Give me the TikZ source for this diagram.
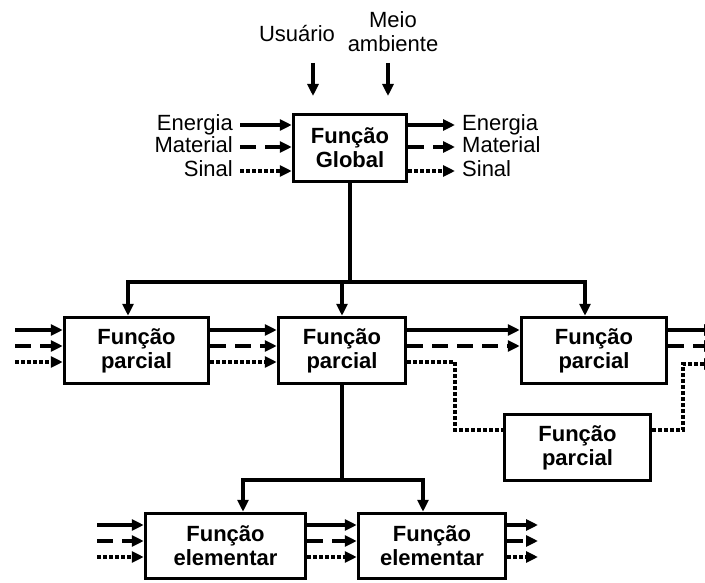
\documentclass[tikz,border=0pt]{standalone}
\usepackage{fontspec}
\setmainfont{Liberation Sans}
\usetikzlibrary{arrows.meta}

\begin{document}
\begin{tikzpicture}[x=1pt, y=-1pt,
  funcbox/.style={draw, line width=3.5pt, align=center, inner sep=0pt,
    font=\bfseries\fontsize{22}{24}\selectfont},
  lbl/.style={inner xsep=7pt, inner ysep=0pt, text height=15pt, text depth=4pt,
    font=\fontsize{22}{24}\selectfont},
  wire/.style={line width=3.3pt},
  flow/.style={wire, -{Triangle[length=12pt,width=11pt]}},
  matter/.style={flow, dash pattern=on 16pt off 9pt},
  signal/.style={flow, dash pattern=on 3.5pt off 2.5pt},
  link/.style={wire, dash pattern=on 3.5pt off 2.5pt}]

% Page frame
\useasboundingbox (0,0) rectangle (705,583);
\clip (0,0) rectangle (705,583);

% Rows of the three flows
\coordinate (gE) at (0,125);
\coordinate (gM) at (0,147);
\coordinate (gS) at (0,171);
\coordinate (pE) at (0,330);
\coordinate (pM) at (0,346);
\coordinate (pS) at (0,362);
\coordinate (eE) at (0,525);
\coordinate (eM) at (0,541);
\coordinate (eS) at (0,557);

% Free ends on the left and right
\coordinate (farL) at (15,0);
\coordinate (farLe) at (97,0);
\coordinate (farR) at (716,0);
\coordinate (endE) at (538,0);

% Global function
\node[funcbox, minimum width=113pt, minimum height=67pt] (glob) at (350,148) {Função\\Global};

% Partial functions
\node[funcbox, minimum width=144pt, minimum height=66pt] (p1) at (136.5,350.5) {Função\\parcial};
\node[funcbox, minimum width=127pt, minimum height=66pt] (p2) at (342,350.5) {Função\\parcial};
\node[funcbox, minimum width=145pt, minimum height=66pt] (p3) at (594,350.5) {Função\\parcial};
\node[funcbox, minimum width=146pt, minimum height=66pt] (p4) at (577.5,447.5) {Função\\parcial};

% Elementary functions
\node[funcbox, minimum width=160pt, minimum height=65pt] (e1) at (225.5,546) {Função\\elementar};
\node[funcbox, minimum width=147pt, minimum height=65pt] (e2) at (432,546) {Função\\elementar};

% User and environment
\node[lbl] (user) at (297,36) {Usuário};
\node[align=center, font=\fontsize{22}{24}\selectfont] (env) at (393,32) {Meio\\ambiente};
\coordinate (userA) at (313,63);
\coordinate (userB) at (313,96);
\coordinate (envA) at (388,63);
\coordinate (envB) at (388,96);
\draw[flow] (userA) -- (userB);
\draw[flow] (envA) -- (envB);

% Inputs of the global function
\node[lbl, anchor=east] (enIn) at (240,125) {Energia};
\node[lbl, anchor=east] (maIn) at (240,147) {Material};
\node[lbl, anchor=east] (siIn) at (240,171) {Sinal};
\draw[flow] (enIn.east) -- (enIn.east -| glob.west);
\draw[matter] (maIn.east) -- (maIn.east -| glob.west);
\draw[signal] (siIn.east) -- (siIn.east -| glob.west);

% Outputs of the global function
\node[lbl, anchor=west] (enOut) at (455,125) {Energia};
\node[lbl, anchor=west] (maOut) at (455,147) {Material};
\node[lbl, anchor=west] (siOut) at (455,171) {Sinal};
\draw[flow] (glob.east |- gE) -- (enOut.west);
\draw[matter] (glob.east |- gM) -- (maOut.west);
\draw[signal] (glob.east |- gS) -- (siOut.west);

% Split into partial functions
\coordinate (busMid) at (350,282);
\coordinate (busL) at (128,282);
\coordinate (busP) at (342,282);
\coordinate (busR) at (585,282);
\draw[wire] (glob.south) -- (busMid);
\draw[flow] (busMid) -| (busL |- p1.north);
\draw[flow] (busMid) -| (busR |- p3.north);
\draw[flow] (busP) -- (busP |- p2.north);

% Flows into the first partial function
\draw[flow] (farL |- pE) -- (p1.west |- pE);
\draw[matter] (farL |- pM) -- (p1.west |- pM);
\draw[signal] (farL |- pS) -- (p1.west |- pS);

% From the first to the second partial function
\draw[flow] (p1.east |- pE) -- (p2.west |- pE);
\draw[matter] (p1.east |- pM) -- (p2.west |- pM);
\draw[signal] (p1.east |- pS) -- (p2.west |- pS);

% From the second to the third partial function
\draw[flow] (p2.east |- pE) -- (p3.west |- pE);
\draw[matter] (p2.east |- pM) -- (p3.west |- pM);

% Signal through the fourth partial function
\coordinate (turnL) at (455,430);
\coordinate (turnR) at (683,364);
\draw[link] (p2.east |- pS) -| (turnL) -- (p4.west |- turnL);
\draw[signal] (p4.east |- turnL) -| (turnR) -- (farR |- turnR);

% Flows out of the third partial function
\draw[flow] (p3.east |- pE) -- (farR |- pE);
\draw[matter] (p3.east |- pM) -- (farR |- pM);

% Split into elementary functions
\coordinate (subMid) at (342,480);
\coordinate (subL) at (243,480);
\coordinate (subR) at (423,480);
\draw[wire] (p2.south) -- (subMid);
\draw[flow] (subMid) -| (subL |- e1.north);
\draw[flow] (subMid) -| (subR |- e2.north);

% Flows into the first elementary function
\draw[flow] (farLe |- eE) -- (e1.west |- eE);
\draw[matter] (farLe |- eM) -- (e1.west |- eM);
\draw[signal] (farLe |- eS) -- (e1.west |- eS);

% From the first to the second elementary function
\draw[flow] (e1.east |- eE) -- (e2.west |- eE);
\draw[matter] (e1.east |- eM) -- (e2.west |- eM);
\draw[signal] (e1.east |- eS) -- (e2.west |- eS);

% Flows out of the second elementary function
\draw[flow] (e2.east |- eE) -- (endE |- eE);
\draw[matter] (e2.east |- eM) -- (endE |- eM);
\draw[signal] (e2.east |- eS) -- (endE |- eS);

\end{tikzpicture}
\end{document}
